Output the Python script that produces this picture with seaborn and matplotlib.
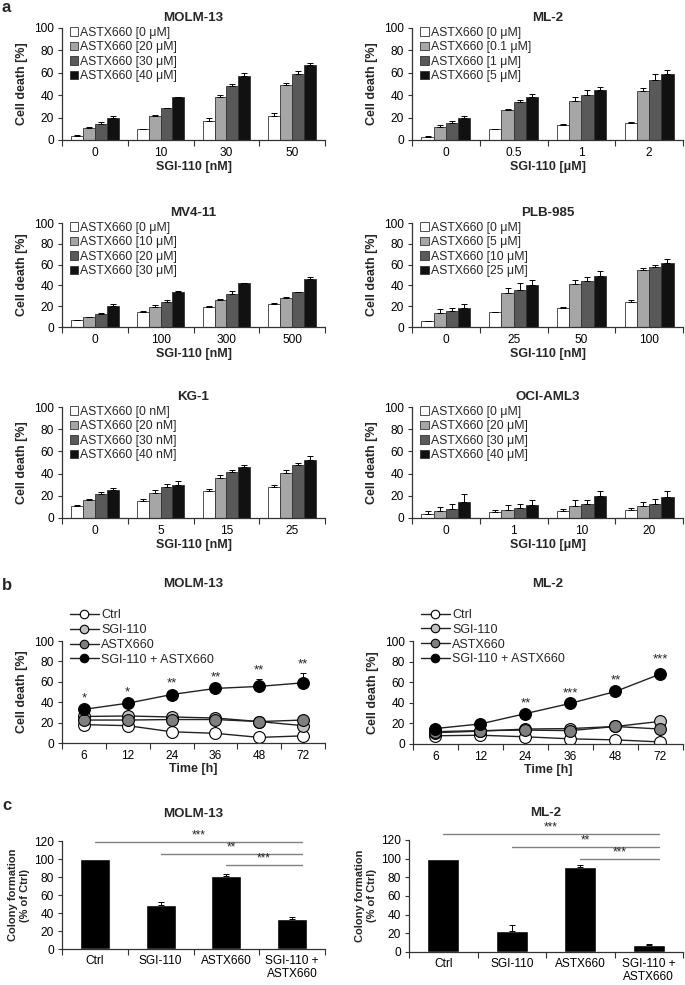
import numpy as np
import pandas as pd
import matplotlib.pyplot as plt
import seaborn as sns

sns.set_style('ticks')
plt.rcParams['font.family'] = ['Liberation Sans', 'DejaVu Sans']
plt.rcParams['axes.edgecolor'] = '#333333'
plt.rcParams['xtick.color'] = '#333333'
plt.rcParams['ytick.color'] = '#333333'
plt.rcParams['xtick.labelcolor'] = 'black'
plt.rcParams['ytick.labelcolor'] = 'black'

# ---------------- panel a: dose matrices (rows = ASTX660 dose, cols = SGI-110 dose)
bar_colors = ['#ffffff', '#a6a6a6', '#595959', '#111111']

molm_x = ['0', '10', '30', '50']
molm_doses = ['ASTX660 [0 μM]', 'ASTX660 [20 μM]', 'ASTX660 [30 μM]', 'ASTX660 [40 μM]']
molm_mean = [[4, 9.5, 17, 21.5], [11, 21.5, 38.5, 49], [14.5, 28.5, 48, 59], [19.5, 38, 57, 67]]
molm_err = [[0.8, 0.5, 2.5, 3], [1, 0.5, 2, 2], [2, 0.5, 2, 2.5], [1.5, 0.5, 2.5, 1.5]]

ml2_x = ['0', '0.5', '1', '2']
ml2_doses = ['ASTX660 [0 μM]', 'ASTX660 [0.1 μM]', 'ASTX660 [1 μM]', 'ASTX660 [5 μM]']
ml2_mean = [[3, 9.5, 13.5, 15.5], [11.5, 26.5, 35, 43.5], [15.5, 33.5, 40.5, 53.5], [19.5, 38.5, 45, 58.5]]
ml2_err = [[0.5, 0.5, 1, 0.5], [1.5, 1.5, 3.5, 2.5], [1.5, 2, 4, 5.5], [2, 3, 2, 4]]

mv4_x = ['0', '100', '300', '500']
mv4_doses = ['ASTX660 [0 μM]', 'ASTX660 [10 μM]', 'ASTX660 [20 μM]', 'ASTX660 [30 μM]']
mv4_mean = [[6.5, 14.5, 19.5, 22.5], [9.5, 19.5, 25.5, 28], [12.5, 24, 31.5, 33.5], [20.5, 34, 42, 46]]
mv4_err = [[0.5, 1, 1, 0.5], [0.5, 2, 1.5, 0.5], [0.5, 2, 3, 0.5], [2, 0.5, 0.5, 2]]

plb_x = ['0', '25', '50', '100']
plb_doses = ['ASTX660 [0 μM]', 'ASTX660 [5 μM]', 'ASTX660 [10 μM]', 'ASTX660 [25 μM]']
plb_mean = [[5.5, 14, 18, 24], [13, 32.5, 41, 55], [15, 35.5, 44.5, 57.5], [18, 40, 49, 62]]
plb_err = [[0.5, 0.5, 1.5, 1.5], [4, 5, 4.5, 2], [3, 6.5, 3.5, 2.5], [4, 5, 4.5, 3]]

kg1_x = ['0', '5', '15', '25']
kg1_doses = ['ASTX660 [0 nM]', 'ASTX660 [20 nM]', 'ASTX660 [30 nM]', 'ASTX660 [40 nM]']
kg1_mean = [[11, 15.5, 24, 28], [16.5, 22.5, 36, 40.5], [22, 28, 41.5, 47.5], [25.5, 30, 45.5, 52]]
kg1_err = [[0.5, 2, 2.5, 2], [1, 2.5, 3, 3], [1, 2.5, 2, 2], [1.5, 3, 2, 3.5]]

oci_x = ['0', '1', '10', '20']
oci_doses = ['ASTX660 [0 μM]', 'ASTX660 [20 μM]', 'ASTX660 [30 μM]', 'ASTX660 [40 μM]']
oci_mean = [[4, 5, 6.5, 7], [6, 7.5, 11, 10.5], [8, 9, 12.5, 13], [14.5, 12, 19.5, 19]]
oci_err = [[2, 2, 2, 2], [3.5, 4, 5.5, 3.5], [4.5, 3.5, 4, 4.5], [7, 4.5, 4.5, 5]]

# ---------------- panel b: time course
times = ['6', '12', '24', '36', '48', '72']
series = ['Ctrl', 'SGI-110', 'ASTX660', 'SGI-110 + ASTX660']
series_colors = ['#ffffff', '#c0c0c0', '#7f7f7f', '#000000']

molm_b_mean = [[18, 17, 11, 9.5, 5.5, 7],
               [26, 26.5, 25.5, 24.5, 21, 17],
               [22.5, 22.5, 23, 23, 21, 22.5],
               [33, 39, 47.5, 53.5, 55.5, 59]]
molm_b_err = [[1, 1, 1, 1, 1, 1], [2, 2, 2, 2, 2, 5], [2, 2, 2, 2, 2, 4], [2, 2, 2, 2, 7, 9.5]]
molm_b_stars = ['*', '*', '**', '**', '**', '**']

ml2_b_mean = [[8, 8.5, 7, 5, 4, 2],
              [11, 12.5, 14.5, 15, 17, 22],
              [12, 13, 13.5, 13, 17, 14.5],
              [15, 19.5, 29.5, 39.5, 51, 68]]
ml2_b_err = [[1, 1, 1, 1, 1, 1], [1, 1, 1, 1, 1, 2], [1, 1, 1, 1, 1, 2], [1, 1, 1, 1, 2, 5]]
ml2_b_stars = ['', '', '**', '***', '**', '***']

# ---------------- panel c: colony formation
colony_cats = ['Ctrl', 'SGI-110', 'ASTX660', 'SGI-110 +\nASTX660']
molm_c_mean = [100, 49, 81, 33.5]
molm_c_err = [0, 3, 2, 2]
molm_c_sig = [(0, '***', 119), (1, '**', 106), (2, '***', 93)]
ml2_c_mean = [100, 23, 91.5, 7.5]
ml2_c_err = [0, 5.5, 1.5, 1]
ml2_c_sig = [(0, '***', 126), (1, '**', 113), (2, '***', 100)]

W, H = 685, 985
fig = plt.figure(figsize=(W / 100, H / 100), dpi=100)

TICK_FS = 8.6
LABEL_FS = 9
TITLE_FS = 9.6


def make_ax(left, top, right, bottom):
    return fig.add_axes([left / W, 1 - bottom / H, (right - left) / W, (bottom - top) / H])


def excel_xaxis(ax, labels, pad=5):
    n = len(labels)
    ax.set_xlim(-0.5, n - 0.5)
    ax.set_xticks(np.arange(-0.5, n), labels=[''] * (n + 1))
    ax.set_xticks(np.arange(n), labels=labels, minor=True)
    ax.tick_params(axis='x', which='major', length=4, width=0.8)
    ax.tick_params(axis='x', which='minor', length=0, pad=pad, labelsize=TICK_FS)
    ax.tick_params(axis='y', length=3, width=0.8, pad=3, labelsize=TICK_FS)
    for s in ['left', 'bottom']:
        ax.spines[s].set_linewidth(0.9)
    sns.despine(ax=ax)


def dose_panel(ax, xcats, doses, mean, err, title, xlabel):
    rows = []
    for d, m_row in zip(doses, mean):
        for x, m in zip(xcats, m_row):
            rows.append({'sgi': x, 'dose': d, 'death': m})
    df = pd.DataFrame(rows)
    sns.barplot(data=df, x='sgi', y='death', hue='dose', order=xcats, hue_order=doses,
                palette=bar_colors, saturation=1, width=0.72, errorbar=None,
                edgecolor='#333333', linewidth=0.6, ax=ax)
    for cont, e_row in zip(list(ax.containers), err):
        for bar, e in zip(cont, e_row):
            ax.errorbar(bar.get_x() + bar.get_width() / 2, bar.get_height(), yerr=[[0], [e]],
                        fmt='none', ecolor='black', elinewidth=0.7, capsize=2, capthick=0.7)
    ax.set_ylim(0, 100)
    ax.set_yticks(range(0, 101, 20))
    excel_xaxis(ax, xcats)
    ax.set_xlabel(xlabel, fontsize=LABEL_FS, fontweight='bold', labelpad=1.5)
    ax.set_ylabel('Cell death [%]', fontsize=LABEL_FS, fontweight='bold', labelpad=4)
    ax.set_title(title, fontsize=TITLE_FS, fontweight='bold', pad=5)
    sns.move_legend(ax, 'upper left', bbox_to_anchor=(0.03, 1.01), frameon=False, title=None,
                    fontsize=8.8, handlelength=0.7, handleheight=0.7, handletextpad=0.15,
                    labelspacing=0.2, borderpad=0, borderaxespad=0)


def time_panel(ax, mean, err, stars, title):
    pos = np.arange(len(times))
    for name, c, m, e in zip(series, series_colors, mean, err):
        ax.errorbar(pos, m, yerr=[np.zeros(len(e)), e], fmt='none', ecolor='black',
                    elinewidth=0.7, capsize=2, capthick=0.7, zorder=1)
        sns.lineplot(x=pos, y=m, color='#222222', linewidth=1, marker='o', markersize=8.5,
                     markerfacecolor=c, markeredgecolor='black', markeredgewidth=0.8,
                     label=name, ax=ax, zorder=2)
    top = np.max(np.array(mean) + np.array(err), axis=0)
    for p, t, s in zip(pos, top, stars):
        if s:
            ax.text(p, t + 9, s, ha='center', va='center', fontsize=9.5)
    ax.set_ylim(0, 100)
    ax.set_yticks(range(0, 101, 20))
    excel_xaxis(ax, times)
    ax.set_xlabel('Time [h]', fontsize=LABEL_FS, fontweight='bold', labelpad=1)
    ax.set_ylabel('Cell death [%]', fontsize=LABEL_FS, fontweight='bold', labelpad=4)
    ax.set_title(title, fontsize=TITLE_FS, fontweight='bold', pad=39)
    ax.legend(loc='upper left', bbox_to_anchor=(0.03, 1.31), frameon=False, fontsize=9,
              handlelength=2.3, handletextpad=0.2, labelspacing=0.22, markerscale=0.72,
              borderpad=0, borderaxespad=0)


def colony_panel(ax, mean, err, sig, title):
    sns.barplot(x=colony_cats, y=mean, color='black', saturation=1, width=0.46,
                errorbar=None, ax=ax)
    bars = ax.containers[0]
    for bar, e in zip(bars, err):
        if e:
            ax.errorbar(bar.get_x() + bar.get_width() / 2, bar.get_height(), yerr=[[0], [e]],
                        fmt='none', ecolor='black', elinewidth=0.7, capsize=2, capthick=0.7)
    last = len(colony_cats) - 1
    for i, s, y in sig:
        ax.plot([i, last + 0.15], [y, y], color='#808080', lw=1, clip_on=False)
        ax.text((i + last + 0.15) / 2, y + 0.5, s, ha='center', va='bottom', fontsize=8.5)
    ax.set_ylim(0, 120)
    ax.set_yticks(range(0, 121, 20))
    excel_xaxis(ax, colony_cats, pad=4)
    ax.set_xlabel('')
    ax.set_ylabel('Colony formation\n(% of Ctrl)', fontsize=8, fontweight='bold', labelpad=3)
    ax.set_title(title, fontsize=TITLE_FS, fontweight='bold', pad=17)


ax = make_ax(62, 28, 325, 140)
dose_panel(ax, molm_x, molm_doses, molm_mean, molm_err, 'MOLM-13', 'SGI-110 [nM]')
ax = make_ax(412, 28, 683, 140)
dose_panel(ax, ml2_x, ml2_doses, ml2_mean, ml2_err, 'ML-2', 'SGI-110 [μM]')
ax = make_ax(62, 223, 325, 327)
dose_panel(ax, mv4_x, mv4_doses, mv4_mean, mv4_err, 'MV4-11', 'SGI-110 [nM]')
ax = make_ax(412, 223, 683, 327)
dose_panel(ax, plb_x, plb_doses, plb_mean, plb_err, 'PLB-985', 'SGI-110 [nM]')
ax = make_ax(62, 407, 325, 518)
dose_panel(ax, kg1_x, kg1_doses, kg1_mean, kg1_err, 'KG-1', 'SGI-110 [nM]')
ax = make_ax(412, 407, 683, 518)
dose_panel(ax, oci_x, oci_doses, oci_mean, oci_err, 'OCI-AML3', 'SGI-110 [μM]')

ax = make_ax(62, 641, 325, 743)
time_panel(ax, molm_b_mean, molm_b_err, molm_b_stars, 'MOLM-13')
ax = make_ax(413, 641, 683, 744)
time_panel(ax, ml2_b_mean, ml2_b_err, ml2_b_stars, 'ML-2')

ax = make_ax(62, 841, 325, 949)
colony_panel(ax, molm_c_mean, molm_c_err, molm_c_sig, 'MOLM-13')
ax = make_ax(409, 840, 683, 952)
colony_panel(ax, ml2_c_mean, ml2_c_err, ml2_c_sig, 'ML-2')

for letter, y in [('a', 0), ('b', 578), ('c', 798)]:
    fig.text(2 / W, 1 - y / H, letter, fontsize=12, fontweight='bold', va='top', ha='left')

fig.savefig('out.png', dpi=100)
